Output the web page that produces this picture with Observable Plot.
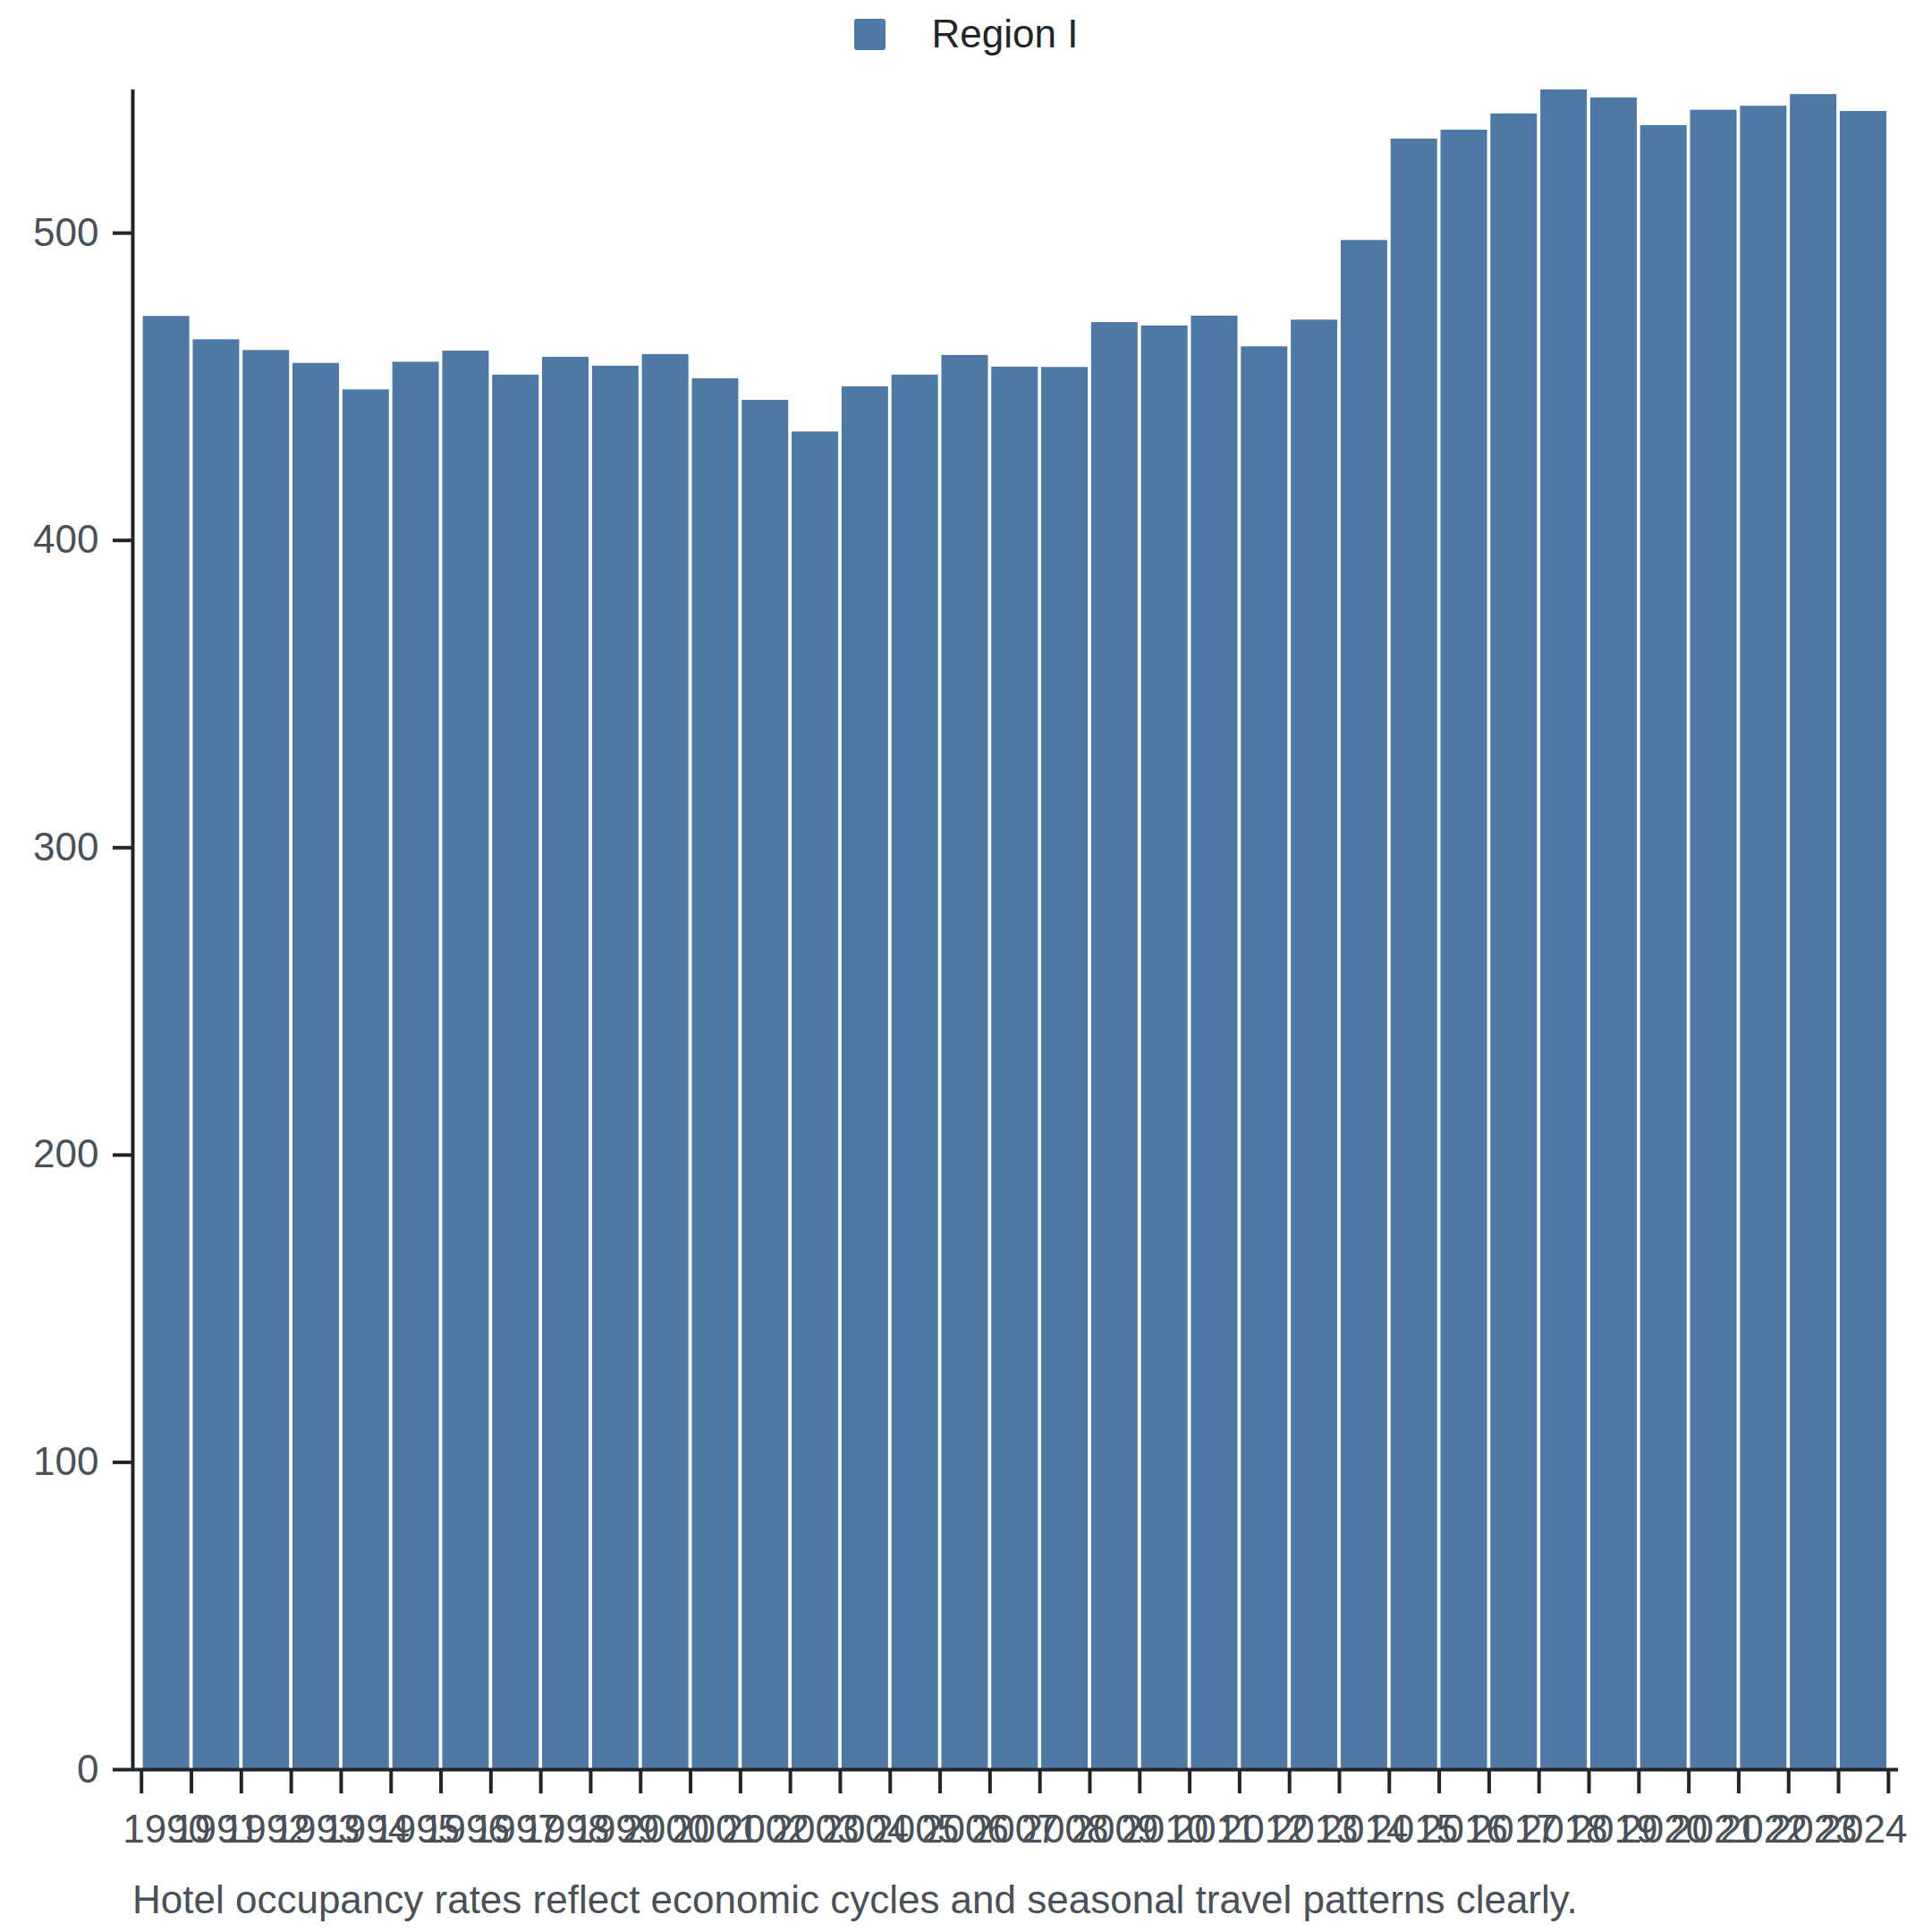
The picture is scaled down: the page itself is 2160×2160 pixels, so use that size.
<!DOCTYPE html>
<html>
<head>
<meta charset="utf-8">
<script src="https://cdn.jsdelivr.net/npm/d3@7"></script>
<script src="https://cdn.jsdelivr.net/npm/@observablehq/plot@0.6"></script>
<style>
  html, body { margin: 0; padding: 0; background: #fff; }
  body { width: 2160px; font-family: "Liberation Sans", Arial, sans-serif; }
  .legend { height: 76px; display: flex; justify-content: center; align-items: center; }
  .legend .sw { width: 35px; height: 35px; border-radius: 3px; background: #4e79a7; margin-right: 52px; }
  .legend .lab { font-size: 44px; color: #212529; line-height: 1; }
  .caption { font-size: 44px; color: #495057; padding-left: 148px; margin-top: 8px; line-height: 1.2; }
</style>
</head>
<body>
<div class="legend"><div class="sw"></div><div class="lab">Region I</div></div>
<div id="chart"></div>
<div class="caption">Hotel occupancy rates reflect economic cycles and seasonal travel patterns clearly.</div>
<script>
const years = [1990,1991,1992,1993,1994,1995,1996,1997,1998,1999,2000,2001,2002,2003,2004,2005,2006,2007,2008,2009,2010,2011,2012,2013,2014,2015,2016,2017,2018,2019,2020,2021,2022,2023,2024];
const values = [472.9,465.3,461.8,457.6,449.0,458.0,461.6,453.8,459.6,456.7,460.5,452.6,445.6,435.3,450.0,453.8,460.2,456.4,456.3,470.9,469.8,473.0,463.0,471.7,497.6,530.6,533.5,538.8,546.6,544.0,535.0,540.0,541.3,545.1,539.6];
const yTicks = [0,100,200,300,400,500];
const seriesName = "Region I";

const data = years.map((year, i) => ({year, value: values[i], series: seriesName}));
const xDomain = [1989.826, 2025.2];
const boundaries = d3.range(years[0], years[years.length - 1] + 2);
const centers = years.map(y => y + 0.5);

const axisColor = "#212529";
const labelColor = "#495057";
const font = "'Liberation Sans', Arial, sans-serif";

const chart = Plot.plot({
  width: 2160,
  height: 2014,
  marginTop: 24,
  marginBottom: 112,
  marginLeft: 148,
  marginRight: 38,
  style: {fontFamily: font, fontSize: "44px", background: "#fff"},
  x: {type: "linear", domain: xDomain, axis: null},
  y: {domain: [0, d3.max(values)], axis: null},
  marks: [
    Plot.rectY(data, {x1: "year", x2: d => d.year + 1, y: "value", fill: "#4e79a7", insetLeft: 1.9, insetRight: 1.9}),
    Plot.ruleY([0], {stroke: axisColor, strokeWidth: 4}),
    Plot.ruleX([xDomain[0]], {stroke: axisColor, strokeWidth: 4}),
    Plot.axisY({ticks: yTicks, tickSize: 22, stroke: axisColor, strokeWidth: 4, tickFormat: () => "", label: null}),
    Plot.axisY({ticks: yTicks, tickSize: 0, tickPadding: 38, color: labelColor, fontSize: 44, tickFormat: d => String(d), label: null}),
    Plot.axisX({ticks: boundaries, tickSize: 27, stroke: axisColor, strokeWidth: 4, tickFormat: () => "", label: null}),
    Plot.axisX({ticks: centers, tickSize: 0, tickPadding: 50, color: labelColor, fontSize: 44, tickFormat: d => String(Math.floor(d)), label: null})
  ]
});
document.getElementById("chart").appendChild(chart);
</script>
</body>
</html>
